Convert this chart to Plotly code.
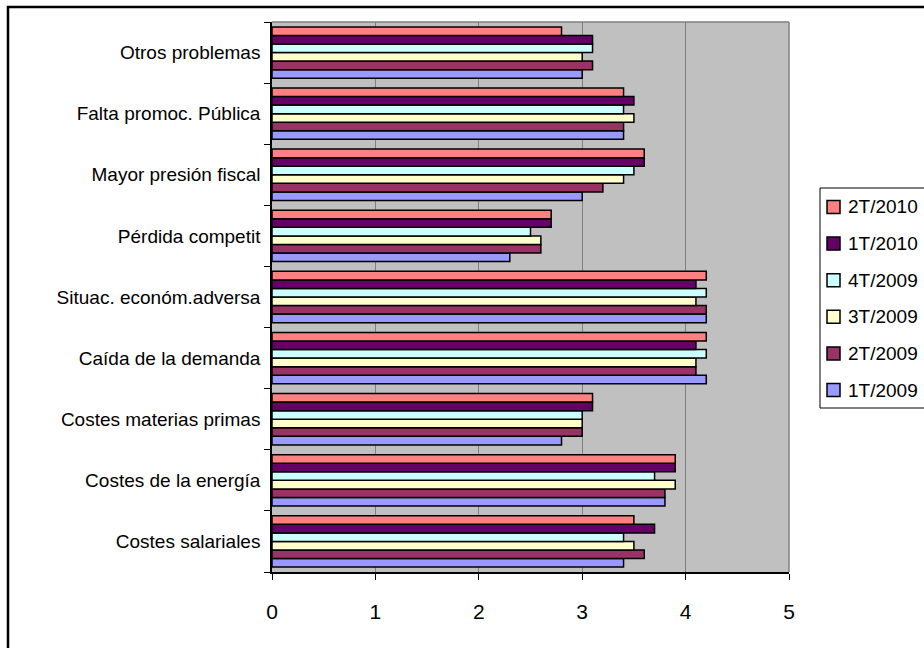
import plotly.graph_objects as go

# Problem categories, listed from the bottom of the chart to the top
categories = [
    "Costes salariales",
    "Costes de la energía",
    "Costes materias primas",
    "Caída de la demanda",
    "Situac. económ.adversa",
    "Pérdida competit",
    "Mayor presión fiscal",
    "Falta promoc. Pública",
    "Otros problemas",
]

# Quarterly scores (same order as categories)
q1_2009 = [3.4, 3.8, 2.8, 4.2, 4.2, 2.3, 3.0, 3.4, 3.0]
q2_2009 = [3.6, 3.8, 3.0, 4.1, 4.2, 2.6, 3.2, 3.4, 3.1]
q3_2009 = [3.5, 3.9, 3.0, 4.1, 4.1, 2.6, 3.4, 3.5, 3.0]
q4_2009 = [3.4, 3.7, 3.0, 4.2, 4.2, 2.5, 3.5, 3.4, 3.1]
q1_2010 = [3.7, 3.9, 3.1, 4.1, 4.1, 2.7, 3.6, 3.5, 3.1]
q2_2010 = [3.5, 3.9, 3.1, 4.2, 4.2, 2.7, 3.6, 3.4, 2.8]

series_names = ["1T/2009", "2T/2009", "3T/2009", "4T/2009", "1T/2010", "2T/2010"]
series_values = [q1_2009, q2_2009, q3_2009, q4_2009, q1_2010, q2_2010]
series_colors = ["#9999FF", "#993366", "#FFFFCC", "#CCFFFF", "#660066", "#FF8080"]

x_ticks = [0, 1, 2, 3, 4, 5]

FONT = "Arial, Liberation Sans, Helvetica, sans-serif"
W, H = 924, 648
ML, MR, MT, MB = 272, 135, 22, 76
PW, PH = W - ML - MR, H - MT - MB


def px_x(p):
    """pixel column -> paper x"""
    return (p - ML) / PW


def px_y(p):
    """pixel row -> paper y"""
    return (H - MB - p) / PH


fig = go.Figure()
for name, vals, col in zip(series_names, series_values, series_colors):
    fig.add_trace(go.Bar(
        y=categories,
        x=vals,
        name=name,
        orientation="h",
        showlegend=False,
        marker=dict(color=col, line=dict(color="#000000", width=1.5)),
    ))

# plot-area frame: grey on top and right, black axis lines on left/bottom
frame = dict(type="line", xref="paper", yref="paper",
             line=dict(color="#808080", width=1.5))
shapes = [
    dict(frame, x0=0, x1=1, y0=1, y1=1),
    dict(frame, x0=1, x1=1, y0=0, y1=1),
    # outer chart border (runs off the right and bottom edges)
    dict(type="rect", xref="paper", yref="paper",
         x0=px_x(8), x1=px_x(960), y0=px_y(680), y1=px_y(7),
         line=dict(color="#000000", width=2.5), fillcolor="rgba(0,0,0,0)"),
]
annotations = []

# legend box, open to the right edge of the chart
LEG_LEFT, LEG_TOP, LEG_BOTTOM = 820, 188, 408
ITEM0, ITEM_STEP, SQ = 207, 36.6, 13
shapes.append(dict(type="rect", xref="paper", yref="paper",
                   x0=px_x(LEG_LEFT), x1=px_x(980),
                   y0=px_y(LEG_BOTTOM), y1=px_y(LEG_TOP),
                   line=dict(color="#000000", width=1), fillcolor="#FFFFFF",
                   layer="above"))
for i, (name, col) in enumerate(zip(series_names[::-1], series_colors[::-1])):
    cy = ITEM0 + i * ITEM_STEP
    shapes.append(dict(type="rect", xref="paper", yref="paper",
                       x0=px_x(827), x1=px_x(827 + SQ),
                       y0=px_y(cy + SQ / 2), y1=px_y(cy - SQ / 2),
                       line=dict(color="#000000", width=1.5), fillcolor=col,
                       layer="above"))
    annotations.append(dict(xref="paper", yref="paper",
                            x=px_x(846), y=px_y(cy),
                            xanchor="left", yanchor="middle",
                            text=name, showarrow=False,
                            font=dict(family=FONT, size=19, color="#000000")))

fig.update_layout(
    width=W,
    height=H,
    margin=dict(l=ML, r=MR, t=MT, b=MB),
    paper_bgcolor="#FFFFFF",
    plot_bgcolor="#C0C0C0",
    barmode="group",
    bargap=0.16,
    bargroupgap=0,
    font=dict(family=FONT, color="#000000", size=19),
    showlegend=False,
    shapes=shapes,
    annotations=annotations,
    xaxis=dict(
        range=[0, 5],
        tickvals=x_ticks,
        ticktext=[str(t) for t in x_ticks],
        showgrid=True,
        gridcolor="#808080",
        gridwidth=1,
        zeroline=False,
        showline=True,
        linecolor="#000000",
        linewidth=1.5,
        ticks="outside",
        ticklen=6,
        tickwidth=1,
        tickcolor="#000000",
        ticklabelstandoff=14,
        tickfont=dict(family=FONT, size=21, color="#000000"),
    ),
    yaxis=dict(
        type="category",
        categoryorder="array",
        categoryarray=categories,
        showgrid=False,
        zeroline=False,
        showline=True,
        linecolor="#000000",
        linewidth=1.5,
        ticks="outside",
        tickson="boundaries",
        ticklen=6,
        tickwidth=1,
        tickcolor="#000000",
        ticklabelstandoff=6,
        tickfont=dict(family=FONT, size=19, color="#000000"),
    ),
)

fig.write_html("out.html")
